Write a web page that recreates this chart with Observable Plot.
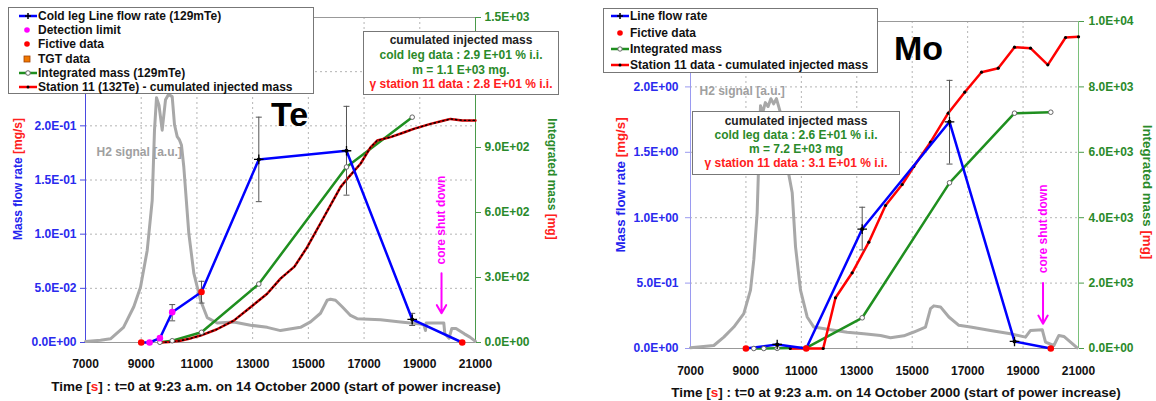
<!DOCTYPE html>
<html>
<head>
<meta charset="utf-8">
<script src="https://cdn.jsdelivr.net/npm/d3@7"></script>
<script src="https://cdn.jsdelivr.net/npm/@observablehq/plot@0.6"></script>
<style>
  body { margin: 0; background: #fff; font-family: "Liberation Sans", Arial, sans-serif; }
  #page { position: relative; width: 1156px; height: 401px; overflow: hidden; background: #fff; }
  .abs { position: absolute; }
  .box { position: absolute; background: #fff; border: 1px solid #777; box-sizing: border-box; font-weight: bold; font-size: 12px; color: #111; }
  .row { height: 14.2px; display: flex; align-items: center; white-space: nowrap; }
  .row2 { height: 16.4px; display: flex; align-items: center; white-space: nowrap; }
  .row svg, .row2 svg { flex: none; }
  .ann { text-align: center; white-space: nowrap; }
  .vt { position: absolute; font-weight: bold; white-space: nowrap; }
  .cap { position: absolute; font-weight: bold; font-size: 13.5px; white-space: nowrap; color: #111; transform: translate(-50%, -50%); }
  .r { color: #ff2020; }
  .bl { color: #2222ee; }
  .gr { color: #2a8a2a; }
</style>
</head>
<body>
<div id="page">
  <div id="te" class="abs" style="left:0;top:0"></div>
  <div id="mo" class="abs" style="left:578px;top:0"></div>

  <!-- Te legend -->
  <div class="box" style="left:8px;top:7px;width:306px;height:87px;padding:1px 0 0 9px;">
    <div class="row"><svg width="20" height="14"><line x1="1" x2="19" y1="7" y2="7" stroke="#0000ff" stroke-width="2.5"/><path d="M10,4V10M7,7H13" stroke="#000" stroke-width="1.5"/></svg><span id="lg1"></span></div>
    <div class="row"><svg width="20" height="14"><circle cx="9" cy="7" r="2.8" fill="#ff00ff"/></svg><span id="lg2"></span></div>
    <div class="row"><svg width="20" height="14"><circle cx="9" cy="7" r="2.8" fill="#ff0000"/></svg><span id="lg3"></span></div>
    <div class="row"><svg width="20" height="14"><rect x="6" y="4" width="6" height="6" fill="#f07800" stroke="#a04000" stroke-width="0.8"/></svg><span id="lg4"></span></div>
    <div class="row"><svg width="20" height="14"><line x1="1" x2="19" y1="7" y2="7" stroke="#1f8f1f" stroke-width="2.5"/><circle cx="10" cy="7" r="2.3" fill="#fff" stroke="#666" stroke-width="1"/></svg><span id="lg5"></span></div>
    <div class="row"><svg width="20" height="14"><line x1="1" x2="19" y1="7" y2="7" stroke="#ff0000" stroke-width="2.5"/><circle cx="10" cy="7" r="1.5" fill="#000"/></svg><span id="lg6"></span></div>
  </div>

  <!-- Mo legend -->
  <div class="box" style="left:603px;top:8px;width:275px;height:65px;padding:0 0 0 7px;">
    <div class="row2" style="margin-top:-1px"><svg width="19" height="14"><line x1="0" x2="18" y1="7" y2="7" stroke="#0000ff" stroke-width="2.5"/><path d="M9,4V10M6,7H12" stroke="#000" stroke-width="1.5"/></svg><span id="mg1"></span></div>
    <div class="row2"><svg width="19" height="14"><circle cx="9" cy="7" r="2.8" fill="#ff0000"/></svg><span id="mg2"></span></div>
    <div class="row2"><svg width="19" height="14"><line x1="0" x2="18" y1="7" y2="7" stroke="#1f8f1f" stroke-width="2.5"/><circle cx="9" cy="7" r="2.2" fill="#fff" stroke="#666" stroke-width="1"/></svg><span id="mg3"></span></div>
    <div class="row2"><svg width="19" height="14"><line x1="0" x2="18" y1="7" y2="7" stroke="#ff0000" stroke-width="2.5"/><circle cx="9" cy="7" r="1.5" fill="#000"/></svg><span id="mg4"></span></div>
  </div>

  <!-- annotation boxes -->
  <div class="box ann" style="left:363px;top:31px;width:196px;height:64px;padding-top:1px;line-height:14.8px;">
    <div id="ta1" style="color:#222"></div>
    <div id="ta2" class="gr"></div>
    <div id="ta3" class="gr"></div>
    <div id="ta4" class="r"></div>
  </div>
  <div class="box ann" style="left:692px;top:111px;width:208px;height:64px;padding-top:1.5px;line-height:14.2px;">
    <div id="ma1" style="color:#222"></div>
    <div id="ma2" class="gr"></div>
    <div id="ma3" class="gr"></div>
    <div id="ma4" class="r"></div>
  </div>

  <!-- rotated axis titles -->
  <div class="vt" style="left:18px;top:179px;font-size:12px;transform:translate(-50%,-50%) rotate(-90deg)"><span class="bl">Mass flow rate </span><span class="r">[mg/s]</span></div>
  <div class="vt" style="left:552px;top:179px;font-size:12px;transform:translate(-50%,-50%) rotate(90deg)"><span class="gr">Integrated mass </span><span class="r">[mg]</span></div>
  <div class="vt" style="left:620px;top:185px;font-size:13.3px;transform:translate(-50%,-50%) rotate(-90deg)"><span class="bl">Mass flow rate </span><span class="r">[mg/s]</span></div>
  <div class="vt" style="left:1147px;top:192px;font-size:13.3px;transform:translate(-50%,-50%) rotate(90deg)"><span class="gr">Integrated mass </span><span class="r">[mg]</span></div>

  <!-- x-axis captions -->
  <div class="cap" style="left:276px;top:386px">Time [<span class="r">s</span>] : t=0 at 9:23 a.m. on 14 October 2000 (start of power increase)</div>
  <div class="cap" style="left:896px;top:392px">Time [<span class="r">s</span>] : t=0 at 9:23 a.m. on 14 October 2000 (start of power increase)</div>
</div>

<script>
// ---------------- shared ----------------
const xTicks = [7000, 9000, 11000, 13000, 15000, 17000, 19000, 21000];

// ---------------- Te panel data ----------------
const teLegend = ["Cold leg Line flow rate (129mTe)", "Detection limit", "Fictive data", "TGT data",
                  "Integrated mass (129mTe)", "Station 11 (132Te) - cumulated injected mass"];
const teBox = ["cumulated injected mass", "cold leg data : 2.9 E+01 % i.i.", "m = 1.1 E+03 mg.",
               "γ station 11 data : 2.8 E+01 % i.i."];
const teYTicks = [0, 0.05, 0.10, 0.15, 0.20];
const teYGrid = [0.05, 0.10, 0.15, 0.20, 0.25];
const teY2Ticks = [0, 300, 600, 900, 1500];

const teFlowT = [9000, 9300, 9670, 10112, 11164, 13221, 16369, 18728, 20523];
const teFlowV = [0, 0, 0.004, 0.028, 0.0466, 0.169, 0.177, 0.0213, 0];
const teFlowKind = ["fictive", "limit", "limit", "limit", "fictive", "data", "data", "data", "fictive"];

const teErrT  = [10112, 11164, 13221, 16369, 18728];
const teErrLo = [0.020, 0.0364, 0.130, 0.136, 0.0157];
const teErrHi = [0.035, 0.0565, 0.208, 0.218, 0.0269];

const teIntT = [9670, 10112, 11164, 13221, 16369, 18728];
const teIntM = [1, 8, 47, 270, 810, 1040];

const teStT = [9700, 10000, 10400, 10800, 11128, 11700, 12323, 12900, 13520, 14000, 14500, 14958, 15555,
               16154, 16393, 16872, 17231, 17470, 17949, 18400, 18785, 19385, 19800, 20103, 20523, 21000];
const teStM = [0, 2, 8, 20, 32, 60, 101, 160, 225, 295, 350, 440, 578,
               717, 755, 825, 901, 932, 948, 968, 986, 1009, 1022, 1032, 1025, 1025];

const teH2T = [7000, 7538, 7897, 8364, 8734, 8974, 9215, 9394, 9477, 9549, 9638, 9753, 9872, 9979, 10112,
               10195, 10292, 10374, 10446, 10529, 10708, 10888, 11128, 11369, 11728, 12323, 12923, 13523,
               14000, 14718, 15077, 15436, 15676, 15795, 15975, 16214, 16513, 16752, 17590, 18308, 19026,
               19150, 19205, 19230, 19862, 19900, 20050, 20150, 20300, 20600, 20800, 21000];
const teH2V = [0.001, 0.002, 0.0034, 0.014, 0.033, 0.051, 0.085, 0.131, 0.196, 0.226, 0.219, 0.196, 0.224, 0.229, 0.227,
               0.201, 0.190, 0.187, 0.182, 0.162, 0.101, 0.064, 0.039, 0.023, 0.018, 0.019, 0.016, 0.014,
               0.011, 0.014, 0.019, 0.027, 0.039, 0.040, 0.039, 0.033, 0.025, 0.022, 0.021, 0.019, 0.017,
               0.016, 0.011, 0.018, 0.018, 0.008, 0.004, 0.013, 0.013, 0.008, 0.005, 0.001];

const teH2Label = {x: 7395, y: 0.176, text: "H2 signal [a.u.]"};
const teShut = {x: 19780, y: 0.113, y1: 0.064, y2: 0.027, text: "core shut down"};
const teName = {x: 14323, y: 0.21, text: "Te"};

// ---------------- Mo panel data ----------------
const moLegend = ["Line flow rate", "Fictive data", "Integrated mass", "Station 11 data - cumulated injected mass"];
const moBox = ["cumulated injected mass", "cold leg data : 2.6 E+01 % i.i.", "m = 7.2 E+03 mg",
               "γ station 11 data : 3.1 E+01 % i.i."];
const moYTicks = [0, 0.5, 1.0, 1.5, 2.0];
const moYGrid = [0.5, 1.0, 1.5, 2.0];
const moY2Ticks = [0, 2000, 4000, 6000, 8000, 10000];

const moFlowT = [9000, 10128, 11175, 13195, 16346, 18691, 20000];
const moFlowV = [0, 0.031, 0, 0.913, 1.733, 0.054, 0];
const moFlowKind = ["fictive", "data", "fictive", "data", "data", "data", "fictive"];

const moErrT  = [13195, 16346];
const moErrLo = [0.754, 1.41];
const moErrHi = [1.08, 2.05];

const moIntT = [9285, 9645, 10128, 11175, 13195, 16346, 18691, 20000];
const moIntM = [0, 0, 5, 20, 939, 5067, 7196, 7226];

const moStT = [10600, 11788, 12232, 12834, 13434, 14036, 14638, 15058, 15660, 16298, 16896, 17500,
               18103, 18691, 19269, 19893, 20533, 21000];
const moStM = [0, 0, 1550, 2315, 3251, 4373, 5015, 5566, 6310, 7196, 7838, 8450,
               8572, 9214, 9183, 8675, 9511, 9530];

const moH2T = [7000, 7841, 8202, 8562, 8923, 9165, 9284, 9405, 9465, 9526, 9600, 9700, 9800, 9900, 10000,
               10100, 10250, 10400, 10547, 10670, 10789, 10969, 11210, 11450, 12052, 12654, 13255, 13856,
               14217, 14698, 15058, 15479, 15660, 15780, 16021, 16322, 16683, 17103, 17825, 18547, 19088,
               19269, 19691, 19810, 20111, 20292, 20472, 20713, 20954];
const moH2V = [0.005, 0.023, 0.087, 0.164, 0.267, 0.446, 0.677, 1.036, 1.446, 1.856, 1.80, 1.88, 1.85, 1.91, 1.87,
               1.91, 1.80, 1.55, 1.33, 1.19, 0.779, 0.446, 0.241, 0.164, 0.144, 0.125, 0.113, 0.1,
               0.082, 0.097, 0.126, 0.164, 0.305, 0.326, 0.318, 0.241, 0.177, 0.164, 0.138, 0.113, 0.087,
               0.138, 0.144, 0.048, 0.023, 0.1, 0.092, 0.048, 0.005];

const moH2Label = {x: 7325, y: 1.97, text: "H2 signal [a.u.]"};
const moShut = {x: 19720, y: 0.915, y1: 0.5, y2: 0.19, text: "core shut down"};
const moName = {x: 15227, y: 2.29, text: "Mo"};

// ---------------- helpers ----------------
function fmtE(v) {
  const s = (+v).toExponential(1);
  const [m, e] = s.split("e");
  const n = +e;
  return m + "E" + (n < 0 ? "-" : "+") + String(Math.abs(n)).padStart(2, "0");
}
const capSym = {draw(ctx, size) { const r = Math.sqrt(size / Math.PI); ctx.moveTo(-r, 0); ctx.lineTo(r, 0); }};

function buildPanel(o) {
  const k = o.yMax / o.y2Max;
  const flow = o.flowT.map((x, i) => ({x, y: o.flowV[i], kind: o.flowKind[i]}));
  const err = o.errT.map((x, i) => ({x, lo: o.errLo[i], hi: o.errHi[i]}));
  const integ = o.intT.map((x, i) => ({x, y: o.intM[i] * k}));
  const st = o.stT.map((x, i) => ({x, y: o.stM[i] * k}));
  const h2 = o.h2T.map((x, i) => ({x, y: o.h2V[i]}));
  const green = "#1f8f1f";
  const marks = [
    Plot.ruleX(xTicks.slice(1, -1), {stroke: "#b4b4b4", strokeDasharray: "2,3"}),
    Plot.ruleY(o.yGrid, {stroke: "#b4b4b4", strokeDasharray: "2,3"}),
    Plot.ruleY([o.yMax], {stroke: "#999"}),
    Plot.ruleY([0], {stroke: "#999"}),
    Plot.ruleX([7000], {stroke: o.leftAxis}),
    Plot.ruleX([21000], {stroke: o.rightAxis}),
    Plot.line(h2, {x: "x", y: "y", stroke: "#a8a8a8", strokeWidth: 3}),
    Plot.text([o.h2Label], {x: "x", y: "y", text: "text", fill: "#a0a0a0", textAnchor: "start", fontSize: 12}),
    Plot.line(integ, {x: "x", y: "y", stroke: green, strokeWidth: 2.5}),
    Plot.line(st, {x: "x", y: "y", stroke: o.stColor, strokeWidth: 2.5}),
    o.stDashed
      ? Plot.line(st, {x: "x", y: "y", stroke: "#000", strokeWidth: 1.4, strokeDasharray: "1.2,3.2"})
      : Plot.dot(st, {x: "x", y: "y", fill: "#000", r: 1.6}),
    Plot.ruleX(err, {x: "x", y1: "lo", y2: "hi", stroke: "#555", strokeWidth: 1}),
    Plot.dot(err, {x: "x", y: "lo", symbol: capSym, r: 3, fill: "none", stroke: "#555", strokeWidth: 1}),
    Plot.dot(err, {x: "x", y: "hi", symbol: capSym, r: 3, fill: "none", stroke: "#555", strokeWidth: 1}),
    Plot.line(flow, {x: "x", y: "y", stroke: "#0000ff", strokeWidth: 2.5}),
    Plot.dot(integ, {x: "x", y: "y", fill: "#fff", stroke: "#666", strokeWidth: 1, r: 2.3}),
    Plot.dot(flow.filter(d => d.kind === "data"), {x: "x", y: "y", fill: "#000", r: 2}),
    Plot.dot(flow.filter(d => d.kind === "data"), {x: "x", y: "y", symbol: "plus", stroke: "#000", strokeWidth: 1.3, r: 3.2}),
    Plot.dot(flow.filter(d => d.kind === "limit"), {x: "x", y: "y", fill: "#ff00ff", r: 3.3}),
    Plot.dot(flow.filter(d => d.kind === "fictive"), {x: "x", y: "y", fill: "#ff0000", r: 3.3}),
    Plot.text([o.shut], {x: "x", y: "y", text: "text", rotate: -90, fill: "#ff00ff", fontSize: 12}),
    Plot.arrow([o.shut], {x1: "x", x2: "x", y1: "y1", y2: "y2", stroke: "#ff00ff", strokeWidth: 2, headLength: 7}),
    Plot.text([o.name], {x: "x", y: "y", text: "text", fill: "#000", fontSize: 34}),
    Plot.axisX(xTicks, {tickSize: 0, tickPadding: o.xPad, tickFormat: d => String(d), fill: "#111", label: null}),
    Plot.axisY(o.yTicks, {anchor: "left", tickFormat: fmtE, tickSize: 5, tickPadding: o.lPad,
                          fill: "#2a2aee", stroke: o.leftAxis, label: null}),
    Plot.axisY(o.y2Ticks.map(v => v * k), {anchor: "right", tickFormat: d => fmtE(d / k), tickSize: 5, tickPadding: o.rPad,
                          fill: "#2a8a2a", stroke: "#4a9a4a", label: null})
  ];
  return Plot.plot({
    width: 578, height: o.height,
    marginLeft: o.ml, marginRight: o.mr, marginTop: o.mt, marginBottom: o.mb,
    x: {domain: [7000, 21000], label: null},
    y: {domain: [0, o.yMax], label: null},
    style: "font-family: 'Liberation Sans', Arial, sans-serif; font-size: 12px; font-weight: bold; background: transparent; overflow: visible;",
    marks
  });
}

document.getElementById("te").appendChild(buildPanel({
  height: 375, ml: 85, mr: 103, mt: 17, mb: 33, xPad: 17, lPad: 4, rPad: 4,
  yMax: 0.3, y2Max: 1500, yTicks: teYTicks, yGrid: teYGrid, y2Ticks: teY2Ticks,
  flowT: teFlowT, flowV: teFlowV, flowKind: teFlowKind,
  errT: teErrT, errLo: teErrLo, errHi: teErrHi,
  intT: teIntT, intM: teIntM, stT: teStT, stM: teStM, stColor: "#c80000", stDashed: true,
  h2T: teH2T, h2V: teH2V, h2Label: teH2Label, shut: teShut, name: teName,
  leftAxis: "#4a4ae0", rightAxis: "#4a9a4a"
}));

document.getElementById("mo").appendChild(buildPanel({
  height: 380, ml: 112, mr: 78, mt: 21, mb: 32, xPad: 18, lPad: 7, rPad: 5,
  yMax: 2.5, y2Max: 10000, yTicks: moYTicks, yGrid: moYGrid, y2Ticks: moY2Ticks,
  flowT: moFlowT, flowV: moFlowV, flowKind: moFlowKind,
  errT: moErrT, errLo: moErrLo, errHi: moErrHi,
  intT: moIntT, intM: moIntM, stT: moStT, stM: moStM, stColor: "#ff0000", stDashed: false,
  h2T: moH2T, h2V: moH2V, h2Label: moH2Label, shut: moShut, name: moName,
  leftAxis: "#9a9af0", rightAxis: "#7ac07a"
}));

// fill legend / annotation texts from the named arrays
teLegend.forEach((t, i) => document.getElementById("lg" + (i + 1)).textContent = t);
moLegend.forEach((t, i) => document.getElementById("mg" + (i + 1)).textContent = t);
teBox.forEach((t, i) => document.getElementById("ta" + (i + 1)).textContent = t);
moBox.forEach((t, i) => document.getElementById("ma" + (i + 1)).textContent = t);
</script>
</body>
</html>
